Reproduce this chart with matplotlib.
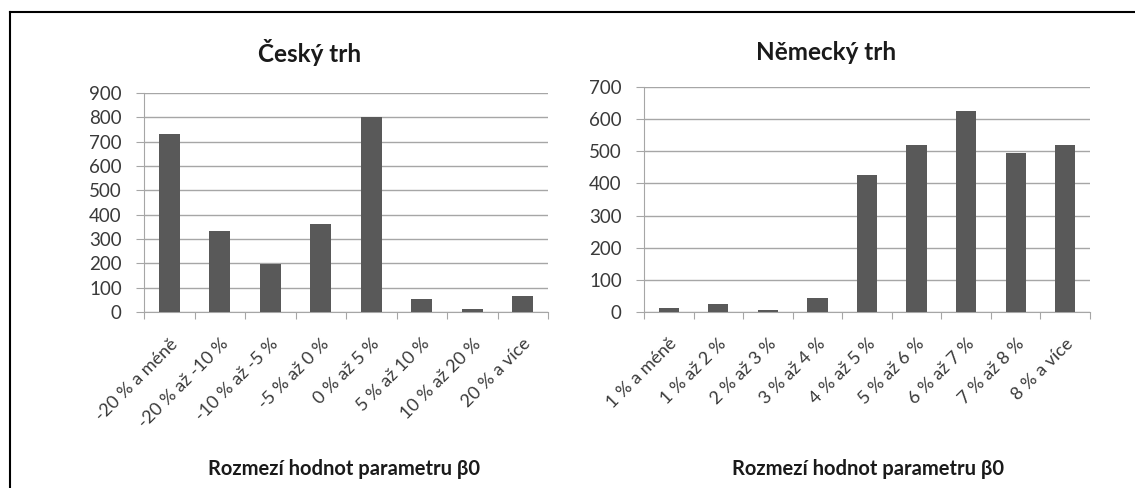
import numpy as np
import matplotlib.pyplot as plt
from matplotlib.lines import Line2D

plt.rcParams['font.family'] = ['Lato', 'DejaVu Sans']

# Czech market
cz_labels = ["-20 % a méně", "-20 % až -10 %", "-10 % až -5 %", "-5 % až 0 %",
             "0 % až 5 %", "5 % až 10 %", "10 % až 20 %", "20 % a více"]
cz_values = [733, 332, 198, 360, 802, 55, 12, 65]

# German market
de_labels = ["1 % a méně", "1 % až 2 %", "2 % až 3 %", "3 % až 4 %", "4 % až 5 %",
             "5 % až 6 %", "6 % až 7 %", "7 % až 8 %", "8 % a více"]
de_values = [14, 26, 5, 44, 427, 520, 626, 495, 520]

xlabel = "Rozmezí hodnot parametru β0"
bar_color = "#595959"
grid_color = "#a6a6a6"
text_color = "#3a3a3a"

W, H = 1135, 488
fig = plt.figure(figsize=(W / 100, H / 100), dpi=100, facecolor="white")


def px_axes(x0, y0, x1, y1):
    # pixel box (top-left origin) -> figure axes
    return fig.add_axes([x0 / W, 1 - y1 / H, (x1 - x0) / W, (y1 - y0) / H])


def draw_panel(ax, labels, values, ymax, title, title_x):
    n = len(labels)
    x = np.arange(n)
    ax.bar(x, values, width=0.41, color=bar_color, zorder=3)
    ax.set_xlim(-0.5, n - 0.5)
    ax.set_ylim(0, ymax)
    ax.set_yticks(np.arange(0, ymax + 1, 100))
    ax.yaxis.grid(True, color=grid_color, linewidth=1.0, zorder=0)
    ax.set_axisbelow(True)
    for s in ["top", "right"]:
        ax.spines[s].set_visible(False)
    ax.spines["left"].set_color(grid_color)
    ax.spines["bottom"].set_color(grid_color)
    ax.tick_params(axis="y", colors=grid_color, length=6, labelcolor=text_color,
                   labelsize=13.5, pad=10)
    # category ticks between bars, labels at centres
    ax.set_xticks(np.arange(-0.5, n, 1.0))
    ax.set_xticklabels([])
    ax.tick_params(axis="x", which="major", colors=grid_color, length=5)
    ax.set_xticks(x, minor=True)
    ax.set_xticklabels(labels, minor=True, rotation=45, ha="right",
                       rotation_mode="anchor", fontsize=13, color=text_color)
    ax.tick_params(axis="x", which="minor", length=0, pad=17)
    fig.text(title_x / W, 1 - 52 / H, title, ha="center", va="center",
             fontsize=17.5, fontweight="bold", color="#1a1a1a")


ax1 = px_axes(144, 93, 548, 312)
draw_panel(ax1, cz_labels, cz_values, 900, "Český trh", 310)
fig.text(344 / W, 1 - 469 / H, xlabel, ha="center", va="center",
         fontsize=14.5, fontweight="bold", color="#1a1a1a")

ax2 = px_axes(644, 87, 1090, 312)
draw_panel(ax2, de_labels, de_values, 700, "Německý trh", 826)
fig.text(868 / W, 1 - 469 / H, xlabel, ha="center", va="center",
         fontsize=14.5, fontweight="bold", color="#1a1a1a")

# outer frame (left and top edges of the pasted chart)
fig.add_artist(Line2D([10 / W, 10 / W], [0, 1 - 12 / H], color="black", linewidth=1.5))
fig.add_artist(Line2D([10 / W, 1134 / W], [1 - 12 / H, 1 - 12 / H], color="black",
                      linewidth=1.5))

fig.savefig("out.png", dpi=100, facecolor=fig.get_facecolor())
